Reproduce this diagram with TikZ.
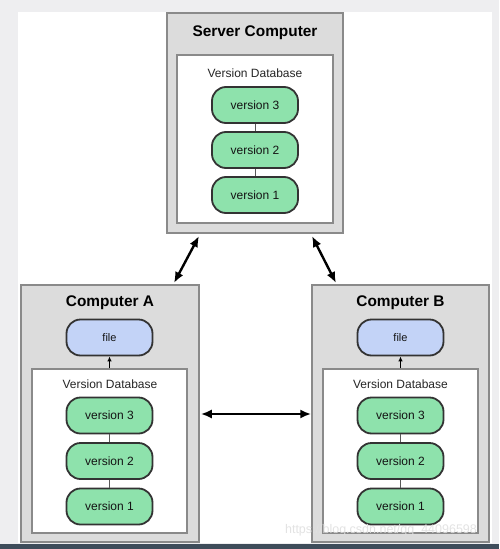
\documentclass[tikz,border=0pt]{standalone}
\usepackage{fontspec}
\setmainfont{Liberation Sans}
\usetikzlibrary{arrows.meta}
\definecolor{pagegray}{HTML}{EEEEF0}
\definecolor{boxgray}{HTML}{DCDCDC}
\definecolor{boxline}{HTML}{8A8A8A}
\definecolor{pillgreen}{HTML}{8EE2AC}
\definecolor{pillblue}{HTML}{C3D3F7}
\definecolor{pillline}{HTML}{333333}
\definecolor{barcol}{HTML}{3E4C5A}
\tikzset{
  outerbox/.style={draw=boxline, fill=boxgray, line width=1.5pt, inner sep=0pt},
  innerbox/.style={draw=boxline, fill=white, line width=1.2pt, inner sep=0pt},
  pill/.style={draw=pillline, line width=1.8pt, rounded corners=14pt, minimum width=86pt, minimum height=36pt, inner sep=0pt, font=\fontsize{12}{14}\selectfont, text=black!92},
  verpill/.style={pill, fill=pillgreen},
  filepill/.style={pill, fill=pillblue, font=\fontsize{11}{13}\selectfont},
  boxtitle/.style={font=\fontsize{15.4}{18}\selectfont\bfseries, text=black, inner sep=0pt},
  dblabel/.style={font=\fontsize{12}{14}\selectfont, text=black!85, inner sep=0pt},
  link/.style={draw=black!65, line width=1pt},
  bigarrow/.style={draw=black, line width=2.4pt, {Latex[length=11pt,width=9pt]}-{Latex[length=11pt,width=9pt]}},
  smallarrow/.style={draw=black, line width=1pt, -{Latex[length=5pt,width=4.5pt]}}
}
\begin{document}
\begin{tikzpicture}[x=1pt,y=-1pt]
\useasboundingbox (0,0) rectangle (499,549);
\fill[pagegray] (0,0) rectangle (499,549);
\fill[white] (18,12) rectangle (492,543);
\fill[barcol] (0,544) rectangle (499,549);

% Server
\node[outerbox, minimum width=176pt, minimum height=220pt] (srv) at (255,123) {};
\node[innerbox, minimum width=156pt, minimum height=168pt] (srvdb) at (255,139) {};
\node[boxtitle] (srvt) at (255,33) {Server Computer};
\node[dblabel] (srvl) at (255,73) {Version Database};
\node[verpill] (s3) at (255,105) {version 3};
\node[verpill] (s2) at (255,150) {version 2};
\node[verpill] (s1) at (255,195) {version 1};
\draw[link] (s3) -- (s2);
\draw[link] (s2) -- (s1);

% Computer A
\node[outerbox, minimum width=178pt, minimum height=257pt] (ca) at (110,413.5) {};
\node[innerbox, minimum width=155pt, minimum height=164pt] (cadb) at (109.5,451) {};
\node[boxtitle] (cat) at (110,303) {Computer A};
\node[filepill] (af) at (109.5,337.5) {file};
\node[dblabel] (al) at (110,384) {Version Database};
\node[verpill] (a3) at (109.5,415.5) {version 3};
\node[verpill] (a2) at (109.5,461) {version 2};
\node[verpill] (a1) at (109.5,506.5) {version 1};
\draw[link] (a3) -- (a2);
\draw[link] (a2) -- (a1);
\draw[smallarrow] (cadb.north) -- (af.south);

% Computer B
\node[outerbox, minimum width=177pt, minimum height=257pt] (cb) at (400.5,413.5) {};
\node[innerbox, minimum width=155pt, minimum height=164pt] (cbdb) at (400.5,451) {};
\node[boxtitle] (cbt) at (400.5,303) {Computer B};
\node[filepill] (bf) at (400.5,337.5) {file};
\node[dblabel] (bl) at (400.5,384) {Version Database};
\node[verpill] (b3) at (400.5,415.5) {version 3};
\node[verpill] (b2) at (400.5,461) {version 2};
\node[verpill] (b1) at (400.5,506.5) {version 1};
\draw[link] (b3) -- (b2);
\draw[link] (b2) -- (b1);
\draw[smallarrow] (cbdb.north) -- (bf.south);

% Connectors between computers
\coordinate (sl) at (199,236);
\coordinate (sr) at (312,236);
\coordinate (at) at (174,283);
\coordinate (bt) at (336,283);
\draw[bigarrow] (sl) -- (at);
\draw[bigarrow] (sr) -- (bt);
\draw[bigarrow] (ca.east |- 0,414) ++(1,0) coordinate (ae) -- (cb.west |- 0,414);

% watermark
\node[font=\fontsize{12.5}{14}\selectfont, text=black!12, opacity=0.9, inner sep=0pt] (wm) at (381,530) {https://blog.csdn.net/qq\_44096598};
\end{tikzpicture}
\end{document}
